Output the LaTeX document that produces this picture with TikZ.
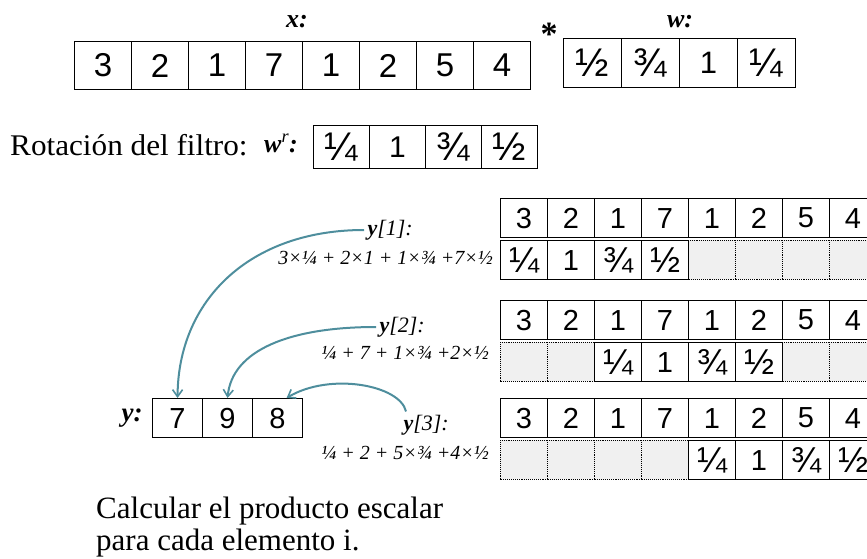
\documentclass[tikz,border=0pt]{standalone}
\usepackage{fontspec}
\setmainfont{Liberation Serif}
\newfontfamily\cellfont{Liberation Sans}
\newfontfamily\widefont[FakeStretch=1.04]{Liberation Serif}
\newcommand\bigfr[1]{{\fontsize{40}{40}\selectfont #1}}
\newcommand\rowfr[1]{{\fontsize{36}{36}\selectfont #1}}
\usetikzlibrary{arrows.meta}
\definecolor{arrteal}{RGB}{78,142,157}
\begin{document}
\begin{tikzpicture}[x=1pt,y=-1pt,
  bigcell/.style={draw, line width=1.1pt, anchor=north west, inner sep=0pt,
    minimum width=57pt, minimum height=48pt, font=\cellfont\fontsize{33}{33}\selectfont},
  wcell/.style={bigcell, minimum width=58pt, minimum height=49pt, font=\cellfont\fontsize{31}{31}\selectfont},
  rcell/.style={bigcell, minimum width=56pt, minimum height=43pt, font=\cellfont\fontsize{30}{30}\selectfont},
  rowcell/.style={draw, line width=1.1pt, anchor=north west, inner sep=0pt, fill=white,
    minimum width=47pt, minimum height=39pt, font=\cellfont\fontsize{29}{29}\selectfont},
  ghost/.style={rowcell, densely dotted, line width=0.8pt, fill=black!6},
  ycell/.style={rowcell, minimum width=50pt},
  lab/.style={font=\bfseries\itshape\fontsize{26}{26}\selectfont},
  ylab/.style={font=\itshape\fontsize{22}{22}\selectfont, anchor=west},
  formula/.style={font=\itshape\fontsize{20}{20}\selectfont, anchor=east, inner sep=1pt},
  conn/.style={draw=arrteal, line width=2pt, -{Straight Barb[length=7pt,width=10pt,line width=1.6pt]}}
]
\useasboundingbox (0,0) rectangle (867,559);

% top x array
\foreach \v [count=\i] in {3,2,1,7,1,2,5,4}
  \node[bigcell] (x\i) at ({74+57*(\i-1)},41) {\v};
\node[lab] (xlab) at (297,22) {x:};
\node[font=\bfseries\fontsize{34}{34}\selectfont] (star) at (549,34) {*};
% w array
\foreach \v [count=\i] in {\bigfr{½},\bigfr{¾},1,\bigfr{¼}}
  \node[wcell] (w\i) at ({563+58*(\i-1)},38) {\v};
\node[lab] (wlab) at (680,22) {w:};

% rotation
\node[font=\widefont\fontsize{30}{30}\selectfont, anchor=base west, inner sep=0pt] (rot) at (10,155) {Rotación del filtro:};
\node[lab, anchor=base west, inner sep=0pt] (wrlab) at (264,152) {w\textsuperscript{\normalfont\itshape r}:};
\foreach \v [count=\i] in {\bigfr{¼},1,\bigfr{¾},\bigfr{½}}
  \node[rcell] (wr\i) at ({313+56*(\i-1)},125) {\v};

% rows with x and shifted filter
\foreach \r/\t/\s in {1/198/0, 2/300/2, 3/398/4}{
  \foreach \v [count=\i] in {3,2,1,7,1,2,5,4}
    \node[rowcell] (r\r x\i) at ({500+47*(\i-1)},\t) {\v};
  \foreach \i in {1,...,8}
    \node[ghost] (r\r g\i) at ({500+47*(\i-1)},\t+42) {};
  \foreach \v [count=\i] in {\rowfr{¼},1,\rowfr{¾},\rowfr{½}}
    \node[rowcell] (r\r w\i) at ({500+47*(\i+\s-1)},\t+42) {\v};
}

% y array
\foreach \v [count=\i] in {7,9,8}
  \node[ycell] (y\i) at ({152+50*(\i-1)},398) {\v};
\node[lab, font=\bfseries\itshape\fontsize{27}{27}\selectfont] (ylab) at (132,418) {y:};

% labels
\node[ylab] (l1) at (364,230) {\textbf{y}[1]:};
\node[formula] (f1) at (494,258) {3×¼ + 2×1 + 1×¾ +7×½};
\node[ylab] (l2) at (376,327) {\textbf{y}[2]:};
\node[formula] (f2) at (490,353) {¼ + 7 + 1×¾ +2×½};
\node[ylab] (l3) at (400,425) {\textbf{y}[3]:};
\node[formula] (f3) at (490,453) {¼ + 2 + 5×¾ +4×½};

% arrows
\draw[conn] (l1.west) .. controls (250,230) and (178,300) .. (y1.north);
\draw[conn] (l2.west) .. controls (290,327) and (232,350) .. (y2.north);
\coordinate (y3t) at ([xshift=9pt]y3.north);
\draw[conn] ([xshift=6pt]l3.north west) .. controls (400,385) and (330,372) .. (y3t);

% bottom text
\node[font=\fontsize{31}{32}\selectfont, anchor=north west, align=left, inner sep=0pt] (note) at (96,497)
  {Calcular el producto escalar\\para cada elemento i.};
\end{tikzpicture}
\end{document}
